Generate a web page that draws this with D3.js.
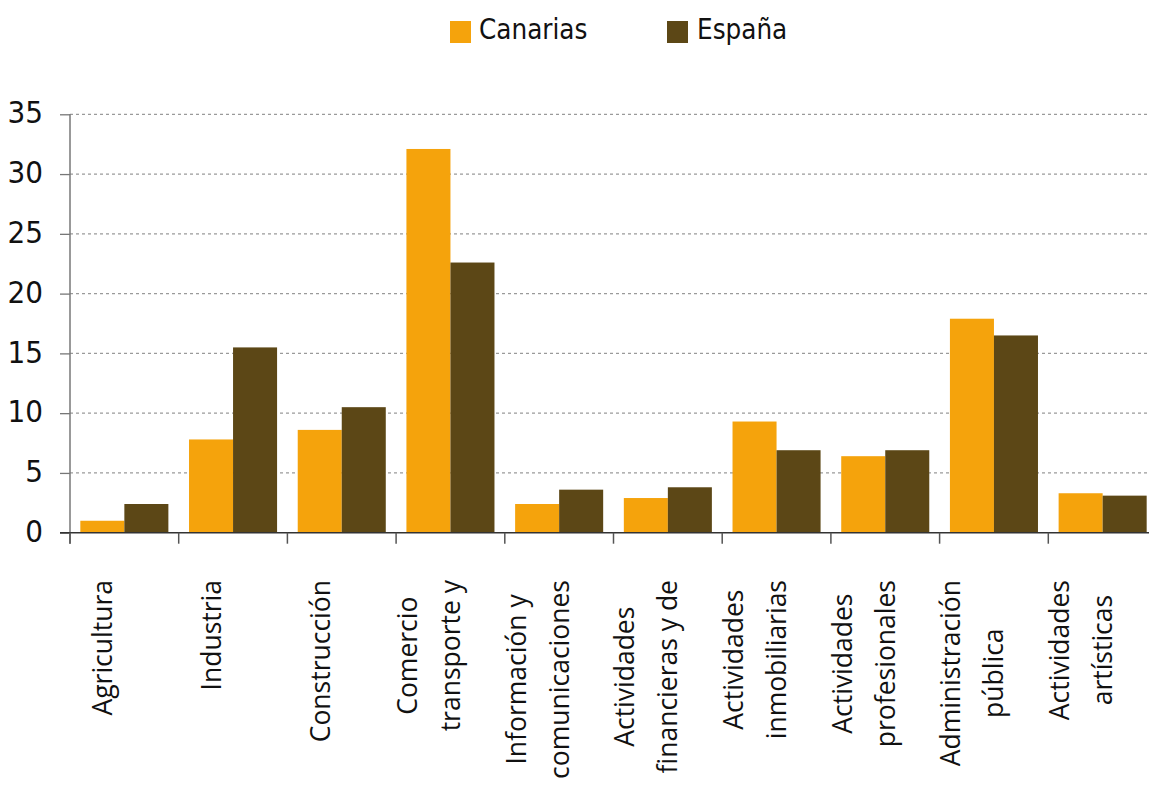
<!DOCTYPE html>
<html>
<head>
<meta charset="utf-8">
<script src="https://cdn.jsdelivr.net/npm/d3@7"></script>
<style>
  html, body { margin: 0; padding: 0; background: #fff; }
  svg { display: block; }
</style>
</head>
<body>
<svg id="chart" width="1149" height="785"></svg>
<script>
// ---- data ----
const categories = [
  "Agricultura", "Industria", "Construcción", "Comercio transporte y",
  "Información y comunicaciones", "Actividades financieras y de",
  "Actividades inmobiliarias", "Actividades profesionales",
  "Administración pública", "Actividades artísticas"
];
const categoryLines = [
  ["Agricultura"],
  ["Industria"],
  ["Construcción"],
  ["Comercio", "transporte y"],
  ["Información y", "comunicaciones"],
  ["Actividades", "financieras y de"],
  ["Actividades", "inmobiliarias"],
  ["Actividades", "profesionales"],
  ["Administración", "pública"],
  ["Actividades", "artísticas"]
];
const seriesNames = ["Canarias", "España"];
const canarias = [1.0, 7.8, 8.6, 32.1, 2.4, 2.9, 9.3, 6.4, 17.9, 3.3];
const espana   = [2.4, 15.5, 10.5, 22.6, 3.6, 3.8, 6.9, 6.9, 16.5, 3.1];
const yTicks = [0, 5, 10, 15, 20, 25, 30, 35];

// ---- layout ----
const colors = ["#F5A30C", "#5C4716"];
const svg = d3.select("#chart");
const pLeft = 70, pRight = 1157, pTop = 114.3, pBottom = 532.7;

const x0 = d3.scaleBand().domain(categories).range([pLeft, pRight])
  .paddingInner(0.19).paddingOuter(0.095);
const step = x0.step();
const x1 = d3.scaleBand().domain(seriesNames).range([0, x0.bandwidth()]).padding(0);
const y = d3.scaleLinear().domain([0, 35]).range([pBottom, pTop]);

const tickFont = "'DejaVu Sans Condensed', 'DejaVu Sans', sans-serif";

// gridlines
svg.append("g").selectAll("line").data(yTicks.filter(d => d > 0)).join("line")
  .attr("x1", pLeft).attr("x2", 1149)
  .attr("y1", d => y(d)).attr("y2", d => y(d))
  .attr("stroke", "#9a9a9a").attr("stroke-width", 1.2)
  .attr("stroke-dasharray", "3,3");

// y axis
const yAxis = d3.axisLeft(y).tickValues(yTicks).tickSize(10).tickPadding(17)
  .tickFormat(d3.format("d"));
const gy = svg.append("g").attr("transform", `translate(${pLeft},0)`).call(yAxis);
gy.select(".domain").remove();
gy.selectAll(".tick line").attr("stroke", "#777").attr("stroke-width", 1.3);
gy.selectAll(".tick text")
  .attr("font-family", tickFont).attr("font-size", 31).attr("fill", "#111")
  .attr("dy", "0.28em");
svg.append("line").attr("x1", pLeft).attr("x2", pLeft)
  .attr("y1", pTop).attr("y2", pBottom + 11)
  .attr("stroke", "#777").attr("stroke-width", 1.5);

// bars
const data = categories.map((c, i) => ({cat: c, vals: [canarias[i], espana[i]]}));
const groups = svg.append("g").selectAll("g").data(data).join("g")
  .attr("transform", d => `translate(${x0(d.cat)},0)`);
groups.selectAll("rect")
  .data(d => d.vals.map((v, j) => ({key: seriesNames[j], v, j})))
  .join("rect")
  .attr("x", d => x1(d.key))
  .attr("width", x1.bandwidth())
  .attr("y", d => y(d.v))
  .attr("height", d => y(0) - y(d.v))
  .attr("fill", d => colors[d.j]);

// x axis baseline and boundary ticks
svg.append("line").attr("x1", 60).attr("x2", 1149)
  .attr("y1", y(0)).attr("y2", y(0))
  .attr("stroke", "#333").attr("stroke-width", 1.5);
const bounds = d3.range(categories.length + 1).map(i => pLeft + i * step);
svg.append("g").selectAll("line").data(bounds).join("line")
  .attr("x1", d => d).attr("x2", d => d)
  .attr("y1", y(0)).attr("y2", y(0) + 11)
  .attr("stroke", "#555").attr("stroke-width", 1.5);

// category labels (rotated, multi-line)
const labelFont = "'Open Sans', 'Noto Sans', sans-serif";
const lineH = 43, labelTop = 580;
categories.forEach((c, i) => {
  const lines = categoryLines[i];
  const n = lines.length;
  const cx = x0(c) + x0.bandwidth() / 2 - 22;
  const g = svg.append("g");
  const texts = g.selectAll("text").data(lines).join("text")
    .attr("font-family", labelFont).attr("font-size", 26.5).attr("fill", "#111")
    .attr("text-anchor", "middle")
    .attr("x", 0)
    .attr("y", (d, k) => 10 + lineH * (k - (n - 1) / 2))
    .text(d => d);
  let maxW = 0;
  texts.each(function() { maxW = Math.max(maxW, this.getComputedTextLength()); });
  const cy = labelTop + maxW / 2;
  g.attr("transform", `translate(${cx},${cy}) rotate(-90)`);
});

// legend
const legendItems = [
  {name: seriesNames[0], color: colors[0], x: 450, tx: 479},
  {name: seriesNames[1], color: colors[1], x: 667, tx: 697}
];
const lg = svg.append("g");
lg.selectAll("rect").data(legendItems).join("rect")
  .attr("x", d => d.x).attr("y", 21).attr("width", 21).attr("height", 22)
  .attr("fill", d => d.color);
lg.selectAll("text").data(legendItems).join("text")
  .attr("x", d => d.tx).attr("y", 39)
  .attr("font-family", tickFont).attr("font-size", 27.5).attr("fill", "#111")
  .text(d => d.name);
</script>
</body>
</html>
